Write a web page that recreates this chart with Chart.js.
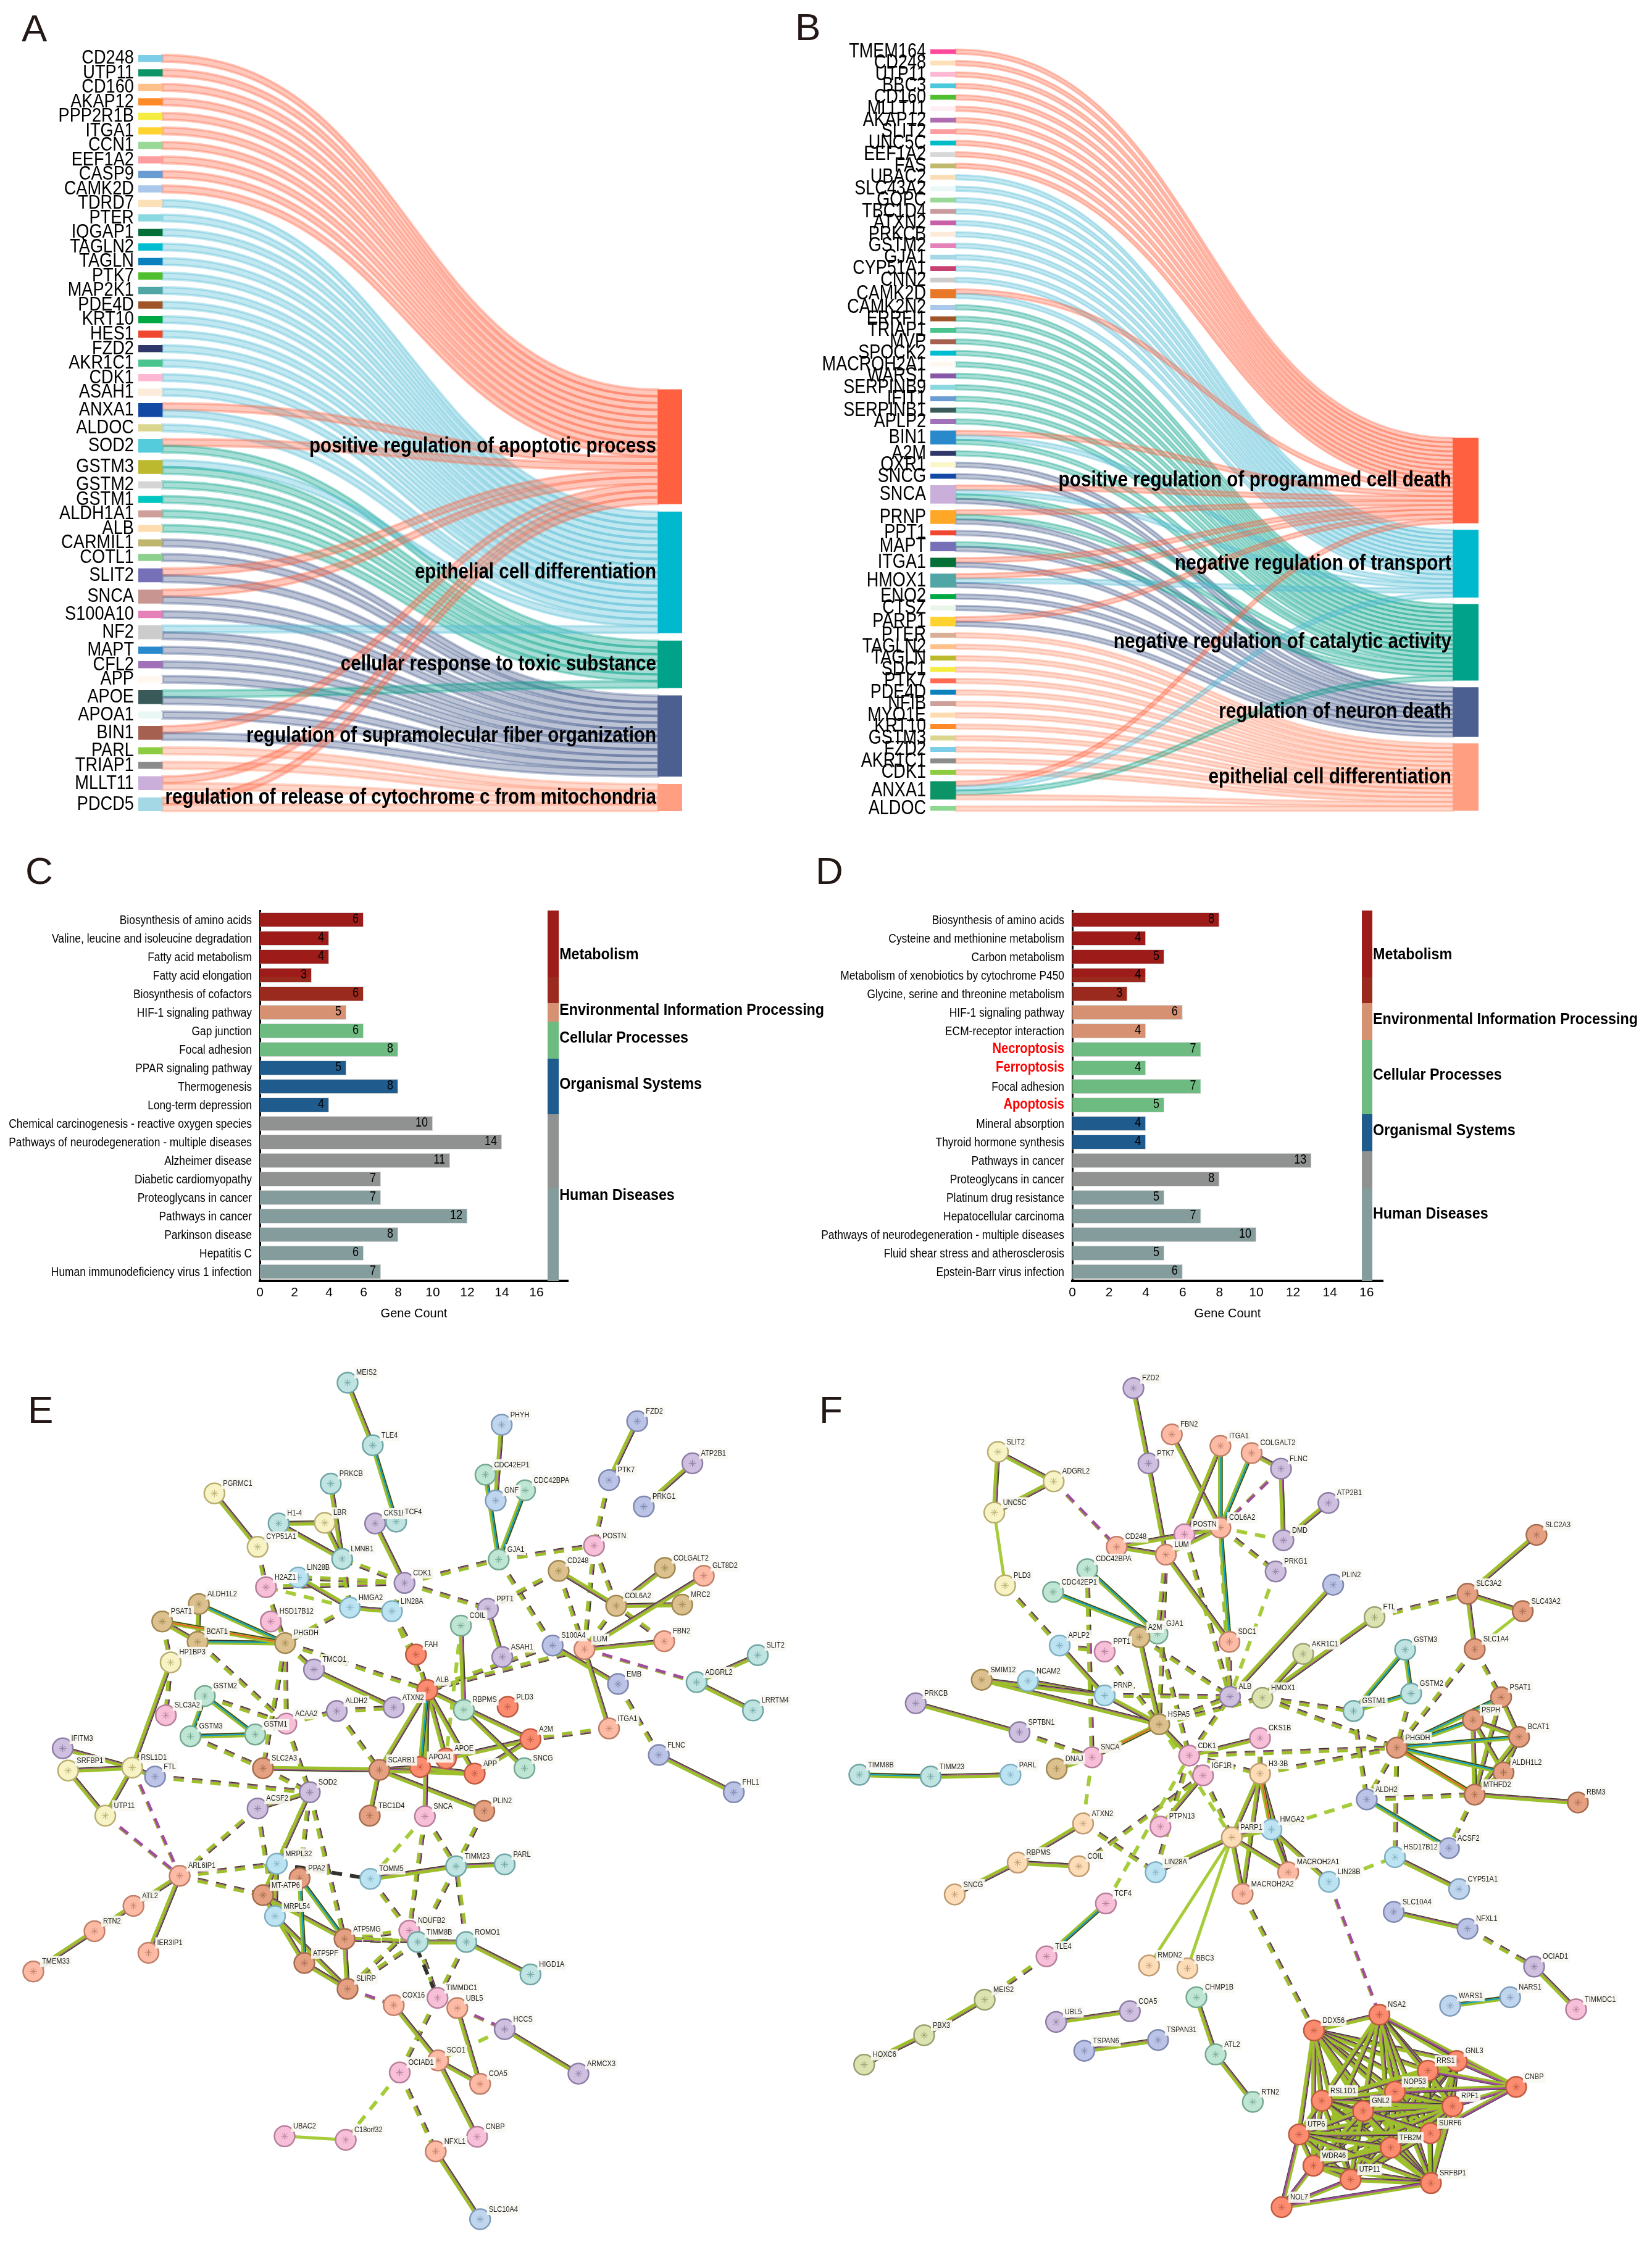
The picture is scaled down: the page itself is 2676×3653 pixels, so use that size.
<!DOCTYPE html>
<html>
<head>
<meta charset="utf-8">
<title>Enrichment and interaction panels</title>
<script src="https://cdn.jsdelivr.net/npm/chart.js@4"></script>
<style>
    body { margin: 0; background: #fff; width: 2676px; height: 3653px; position: relative; overflow: hidden; }
    canvas { position: absolute; }
    .letter { position: absolute; font: 62px/1 "Liberation Sans", Arial, sans-serif; color: #231815; }
</style>
</head>
<body>
<div class="letter" style="left:35px;top:15px">A</div>
<div class="letter" style="left:1288px;top:13px">B</div>
<div class="letter" style="left:41px;top:1380px">C</div>
<div class="letter" style="left:1321px;top:1380px">D</div>
<div class="letter" style="left:45px;top:2253px">E</div>
<div class="letter" style="left:1327px;top:2253px">F</div>

<script>
// ---------- panel A: genes, their terms (digit = index into aTerms) ----------
const aGenes = "CD248 UTP11 CD160 AKAP12 PPP2R1B ITGA1 CCN1 EEF1A2 CASP9 CAMK2D TDRD7 PTER IQGAP1 TAGLN2 TAGLN PTK7 MAP2K1 PDE4D KRT10 HES1 FZD2 AKR1C1 CDK1 ASAH1 ANXA1 ALDOC SOD2 GSTM3 GSTM2 GSTM1 ALDH1A1 ALB CARMIL1 COTL1 SLIT2 SNCA S100A10 NF2 MAPT CFL2 APP APOE APOA1 BIN1 PARL TRIAP1 MLLT11 PDCD5".split(" ");
const aLinks = "0 0 0 0 0 0 0 0 0 0 1 1 1 1 1 1 1 1 1 1 1 1 1 1 01 1 02 12 2 2 2 2 3 3 03 03 3 13 3 3 3 23 3 03 4 4 04 04".split(" ");
const aGeneColors = ["#7BCDE8","#0C9466","#FFC08A","#FF8A28","#F5EC42","#FFD230","#9AD897","#FF9CA0","#6A9CD4","#AAC8EA","#FBE0B8","#8CD8E0","#047038","#00BCD0","#0A80BC","#50BF2F","#50A5A5","#A05528","#00A844","#F04730","#2F3668","#4CC48F","#FFB8D4","#FCEBDA","#1448A5","#DAD68F","#54CCDC","#BDB92E","#D5D5D5","#00C5C0","#CFA09A","#FFDCB0","#BFB56C","#8CD08C","#7570B8","#C89590","#E680B8","#CCCCCC","#2A88CC","#A070B8","#FFF8F0","#3A5A5A","#EAF8F5","#A56050","#8CCC40","#8C8C8C","#C9AFDA","#A5D8E5"];
const aTerms = ["positive regulation of apoptotic process","epithelial cell differentiation","cellular response to toxic substance","regulation of supramolecular fiber organization","regulation of release of cytochrome c from mitochondria"];

// ---------- panel B ----------
const bGenes = "TMEM164 CD248 UTP11 BBC3 CD160 MLLT11 AKAP12 SLIT2 UNC5C EEF1A2 FAS UBAC2 SLC43A2 GOPC TBC1D4 ATXN2 PRKCB GSTM2 GJA1 CYP51A1 CNN2 CAMK2D CAMK2N2 ERRFI1 TRIAP1 MVP SPOCK2 MACROH2A1 WARS1 SERPINB9 IFIT1 SERPINB1 APLP2 BIN1 A2M OXR1 SNCG SNCA PRNP PPT1 MAPT ITGA1 HMOX1 ENO2 CTSZ PARP1 PTER TAGLN2 TAGLN SDC1 PTK7 PDE4D NFIB MYO1E KRT10 GSTM3 FZD2 AKR1C1 CDK1 ANXA1 ALDOC".split(" ");
const bLinks = "0 0 0 0 0 0 0 0 0 0 0 1 1 1 1 1 1 1 1 1 1 01 2 2 2 2 2 2 2 2 2 2 2 012 2 3 3 0123 023 3 23 03 013 3 3 03 4 4 4 4 4 4 4 4 4 4 4 4 4 0124 4".split(" ");
const bGeneColors = ["#FF4A9C","#FDE0B8","#FFB8D4","#4CC8DC","#50BF2F","#FFEFF5","#B06CB0","#FF9CA0","#00BCC8","#D8D8D8","#C0B86C","#FBDDB5","#EAF8F8","#9AD897","#C89A9C","#C860A8","#FCEBDA","#E680B8","#A5D8E5","#C84070","#CCCCCC","#E87828","#AAC8EA","#A05528","#48C48C","#A56050","#00BCD0","#FFF8F0","#8858A8","#88D8E0","#6A9CD4","#3A5A5A","#A070B8","#2A88CC","#2F3668","#FBF6C8","#1448A5","#C9AFDA","#FFA828","#F04730","#7570B8","#047038","#50A5A5","#00A844","#EAF5EA","#FFD230","#D8AE94","#FFC08A","#BDB92E","#F5EC42","#FF6A50","#0A80BC","#CFA09A","#FFDCB0","#FF8A28","#DAD68F","#7BCDE8","#8C8C8C","#8CCC40","#0C9466","#8CD890"];
const bTerms = ["positive regulation of programmed cell death","negative regulation of transport","negative regulation of catalytic activity","regulation of neuron death","epithelial cell differentiation"];

const termColors = ["#FF6040","#00B9CE","#00A28A","#4B5F90","#FF9E80"];
const ribbonColors = ["255,96,64","77,187,213","0,160,135","60,84,136","255,140,105"];

// ---------- panel C ----------
const cPathways = ["Biosynthesis of amino acids","Valine, leucine and isoleucine degradation","Fatty acid metabolism","Fatty acid elongation","Biosynthesis of cofactors","HIF-1 signaling pathway","Gap junction","Focal adhesion","PPAR signaling pathway","Thermogenesis","Long-term depression","Chemical carcinogenesis - reactive oxygen species","Pathways of neurodegeneration - multiple diseases","Alzheimer disease","Diabetic cardiomyopathy","Proteoglycans in cancer","Pathways in cancer","Parkinson disease","Hepatitis C","Human immunodeficiency virus 1 infection"];
const cCounts = [6,4,4,3,6,5,6,8,5,8,4,10,14,11,7,7,12,8,6,7];
const cBands = [3.6,5,6,8,11,15,20];

// ---------- panel D ----------
const dPathways = ["Biosynthesis of amino acids","Cysteine and methionine metabolism","Carbon metabolism","Metabolism of xenobiotics by cytochrome P450","Glycine, serine and threonine metabolism","HIF-1 signaling pathway","ECM-receptor interaction","Necroptosis","Ferroptosis","Focal adhesion","Apoptosis","Mineral absorption","Thyroid hormone synthesis","Pathways in cancer","Proteoglycans in cancer","Platinum drug resistance","Hepatocellular carcinoma","Pathways of neurodegeneration - multiple diseases","Fluid shear stress and atherosclerosis","Epstein-Barr virus infection"];
const dCounts = [8,4,5,4,3,6,4,7,4,7,5,4,4,13,8,5,7,10,5,6];
const dBands = [3.6,5,7,11,13,15,20];
const dHighlight = ["Necroptosis","Ferroptosis","Apoptosis"];

const bandColors = ["#9D1C1A","#9A2A1D","#D69072","#6DBB80","#1F5C8D","#8F9290","#849C9C"];
const groupNames = ["Metabolism","Environmental Information Processing","Cellular Processes","Organismal Systems","Human Diseases"];
const cGroupEnds = [5,6,8,11,20];
const dGroupEnds = [5,7,11,13,20];

// ---------- panel E network ----------
const eNames = "MEIS2 TLE4 PHYH FZD2 ATP2B1 PRKCB PGRMC1 CDC42EP1 GNF CDC42BPA PTK7 PRKG1 H1-4 LBR CKS1B TCF4 CYP51A1 LMNB1 GJA1 POSTN CD248 COLGALT2 GLT8D2 H2AZ1 LIN28B CDK1 ALDH1L2 PSAT1 HMGA2 LIN28A PPT1 COL6A2 MRC2 HSD17B12 COIL FBN2 BCAT1 PHGDH HP1BP3 FAH ASAH1 S100A4 LUM SLIT2 TMCO1 EMB ADGRL2 ALB GSTM2 ATXN2 RBPMS PLD3 LRRTM4 SLC3A2 ALDH2 ACAA2 ITGA1 GSTM1 GSTM3 A2M IFITM3 FLNC SRFBP1 RSL1D1 FTL SLC2A3 SCARB1 APOA1 APOE APP SNCG SOD2 ACSF2 FHL1 UTP11 TBC1D4 SNCA PLIN2 ARL6IP1 ATL2 RTN2 TMEM33 IER3IP1 MRPL32 PPA2 MT-ATP6 MRPL54 ATP5MG ATP5PF SLIRP TOMM5 TIMM23 PARL NDUFB2 TIMM8B ROMO1 HIGD1A COX16 TIMMDC1 UBL5 HCCS SCO1 OCIAD1 COA5 ARMCX3 UBAC2 C18orf32 CNBP NFXL1 SLC10A4".split(" ");
const eX = [560,602,817,1043,1135,532,338,790,807,856,996,1054,445,522,606,641,410,551,812,971,912,1089,1154,424,478,655,312,251,564,634,794,1008,1118,432,749,1088,310,456,265,674,818,902,955,1244,504,1011,1142,693,322,637,754,827,1236,257,542,458,996,406,298,865,85,1079,94,201,239,419,613,681,724,772,855,497,410,1204,156,597,689,788,280,203,138,36,228,442,480,419,439,555,488,560,598,741,822,663,677,758,865,637,710,743,822,711,647,781,945,455,557,776,707,781];
const eY = [2222,2326,2292,2286,2356,2390,2406,2375,2418,2401,2384,2428,2456,2455,2456,2453,2495,2515,2516,2493,2535,2530,2543,2562,2546,2555,2590,2619,2596,2602,2598,2593,2591,2619,2626,2652,2653,2655,2687,2674,2678,2659,2665,2675,2699,2723,2720,2733,2743,2762,2766,2761,2767,2775,2768,2789,2797,2807,2810,2815,2830,2841,2867,2862,2877,2863,2866,2861,2847,2872,2863,2903,2930,2903,2942,2942,2943,2934,3042,3092,3134,3201,3170,3022,3046,3074,3109,3147,3187,3230,3047,3026,3023,3133,3152,3152,3206,3257,3245,3262,3297,3349,3369,3388,3371,3475,3481,3476,3500,3613];
const eTint = "t t b p l t y g b g p p t y l t y t g k o o r k c l o o c c l o o k g r o o y s l p r t l p t s g l g s t k l k r g g s l p y y p d d s s s g l l p y d k d r r r r r c d d c d d d c t t k t t t r k r l r k r l k k k r b b".split(" ");
const eFull = "MEIS2|TLE4 PHYH|GNF FZD2|PTK7 ATP2B1|PRKG1 PRKCB|LMNB1 PGRMC1|CYP51A1 H1-4|LBR H1-4|LMNB1 LBR|LMNB1 CKS1B|CDK1 COL6A2|CD248 COL6A2|COLGALT2 COL6A2|MRC2 LUM|GLT8D2 LUM|FBN2 S100A4|EMB LUM|ITGA1 ADGRL2|SLIT2 ADGRL2|LRRTM4 FLNC|FHL1 HMGA2|LIN28B HMGA2|LIN28A PPT1|ASAH1 COIL|RBPMS TMCO1|ATXN2 PSAT1|BCAT1 ALDH1L2|BCAT1 HP1BP3|RSL1D1 IFITM3|RSL1D1 SRFBP1|RSL1D1 RSL1D1|UTP11 SRFBP1|UTP11 RSL1D1|FTL ALB|APOE ALB|SCARB1 ALB|APP ALB|A2M APOE|A2M APP|A2M RBPMS|SNCG SCARB1|PLIN2 SCARB1|SLC2A3 SCARB1|APOA1 SCARB1|TBC1D4 SCARB1|APP APOA1|APP ALB|SNCA SOD2|ACSF2 SOD2|MT-ATP6 ARL6IP1|ATL2 ATL2|RTN2 RTN2|TMEM33 ARL6IP1|IER3IP1 MRPL32|MRPL54 MT-ATP6|ATP5MG MT-ATP6|ATP5PF MRPL54|SLIRP ATP5MG|SLIRP ATP5PF|SLIRP TOMM5|TIMM23 TIMM23|PARL TIMM8B|ROMO1 ROMO1|HIGD1A COX16|SCO1 UBL5|COA5 SCO1|COA5 SCO1|CNBP HCCS|ARMCX3 NFXL1|SLC10A4".split(" ");
const eBlue = "TLE4|TCF4 CDC42EP1|GJA1 CDC42BPA|GJA1 ALDH1L2|PHGDH BCAT1|PHGDH GSTM2|GSTM1 GSTM2|GSTM3 GSTM3|GSTM1 ALB|APOA1 PPA2|ATP5MG PPA2|ATP5PF".split(" ");
const eOrange = "PSAT1|PHGDH".split(" ");
const eDash = "CDK1|GJA1 GJA1|POSTN GJA1|S100A4 PTK7|POSTN POSTN|COL6A2 CD248|LUM POSTN|LUM COL6A2|LUM FBN2|COL6A2 EMB|FLNC ITGA1|A2M S100A4|ALB LUM|ALB CDK1|PPT1 CDK1|LMNB1 CDK1|LIN28B CDK1|H2AZ1 CDK1|LIN28A LIN28A|ALB CYP51A1|H2AZ1 LMNB1|HMGA2 HMGA2|PHGDH H2AZ1|PHGDH PHGDH|TMCO1 PHGDH|ALB PSAT1|HP1BP3 BCAT1|ACAA2 PHGDH|ACAA2 PHGDH|SLC2A3 GSTM2|ACAA2 GSTM3|SLC2A3 GSTM1|ACAA2 ACAA2|ALDH2 ALDH2|ATXN2 ALDH2|SCARB1 ACAA2|SOD2 SLC2A3|SOD2 FTL|SOD2 ACSF2|ARL6IP1 ARL6IP1|MRPL32 ARL6IP1|MT-ATP6 SOD2|MRPL32 SOD2|PPA2 SOD2|ATP5MG ACSF2|MRPL54 SNCA|TIMM23 SNCA|NDUFB2 PLIN2|TIMM23 ROMO1|TIMM23 ROMO1|TIMMDC1 TOMM5|NDUFB2 TIMM23|TIMM8B NDUFB2|ATP5MG TIMM8B|ATP5MG ROMO1|ATP5MG NDUFB2|SLIRP TIMM8B|SLIRP TIMM8B|TIMMDC1 TIMMDC1|OCIAD1 OCIAD1|NFXL1 HP1BP3|SLC3A2 CD248|PPT1 LIN28A|FAH FAH|ALB".split(" ");
const eDashLime = "SNCA|TOMM5 OCIAD1|C18orf32 HCCS|SCO1 COIL|APOE HMGA2|H2AZ1".split(" ");
const eDashPurple = "LUM|ADGRL2 RSL1D1|ARL6IP1 UTP11|ARL6IP1 SLIRP|COX16 UBL5|HCCS".split(" ");
const eDashDark = "MRPL32|TOMM5 NDUFB2|TIMMDC1".split(" ");
const eLime = "UBAC2|C18orf32 COIL|RBPMS".split(" ");

// ---------- panel F network ----------
const fNames = "FZD2 FBN2 ITGA1 COLGALT2 PTK7 FLNC SLIT2 ADGRL2 ATP2B1 UNC5C POSTN COL6A2 DMD CD248 LUM PRKG1 SLC2A3 CDC42BPA PLD3 PLIN2 CDC42EP1 SLC3A2 SLC43A2 FTL GJA1 A2M APLP2 PPT1 SDC1 AKR1C1 GSTM3 SLC1A4 SMIM12 NCAM2 PRNP ALB HMOX1 GSTM2 GSTM1 PSAT1 PRKCB HSPA5 PSPH SPTBN1 BCAT1 CKS1B PHGDH SNCA CDK1 DNAJ TIMM8B TIMM23 PARL IGF1R H3-3B ALDH1L2 MTHFD2 ALDH2 RBM3 ATXN2 PTPN13 HMGA2 PARP1 ACSF2 HSD17B12 RBPMS COIL LIN28A MACROH2A1 LIN28B CYP51A1 MACROH2A2 SNCG TCF4 SLC10A4 NFXL1 TLE4 RMDN2 BBC3 OCIAD1 CHMP1B MEIS2 NARS1 WARS1 TIMMDC1 NSA2 COA5 UBL5 DDX56 PBX3 TSPAN31 TSPAN6 ATL2 GNL3 RRS1 HOXC6 CNBP NOP53 RSL1D1 RTN2 RPF1 GNL2 SURF6 UTP6 TFB2M WDR46 UTP11 SRFBP1 NOL7".split(" ");
const fX = [1831,1895,1976,2028,1856,2077,1605,1698,2156,1599,1916,1976,2081,1803,1885,2068,2503,1754,1617,2164,1697,2388,2480,2233,1871,1841,1708,1783,1991,2114,2284,2400,1578,1655,1783,1992,2046,2294,2198,2444,1468,1874,2397,1641,2474,2042,2270,1762,1924,1703,1374,1493,1626,1947,2042,2448,2400,2220,2572,1747,1876,2061,1995,2357,2267,1638,1740,1868,2089,2157,2374,2013,1533,1785,2265,2388,1686,1857,1921,2499,1936,1583,2459,2359,2569,2241,1825,1702,2132,1482,1872,1749,1968,2370,2322,1382,2469,2267,2145,2030,2363,2214,2326,2107,2260,2131,2193,2327,2078];
const fY = [2231,2308,2327,2339,2356,2365,2337,2386,2422,2438,2474,2463,2484,2495,2508,2536,2475,2532,2559,2558,2570,2573,2602,2612,2639,2645,2659,2669,2653,2673,2666,2665,2716,2718,2742,2744,2746,2739,2768,2745,2755,2790,2783,2803,2811,2813,2829,2845,2842,2864,2874,2877,2874,2875,2872,2870,2907,2915,2920,2955,2960,2965,2978,2996,3011,3020,3026,3036,3036,3052,3064,3072,3073,3088,3102,3130,3176,3191,3196,3193,3244,3248,3244,3258,3264,3273,3267,3285,3299,3307,3315,3333,3339,3350,3366,3356,3393,3401,3416,3418,3425,3433,3470,3472,3494,3524,3547,3553,3593];
const fTint = "l r r r l l y y l y k r l r r l d g y p g d d v g o c k r v t d o c c l v t t d l o d l d k d k k o t t c k f d d p d f k c f p c f f c r c b r f k p p k f f l g v b b k s l l s v p p g s s v s s s g s s s s s s s s s".split(" ");
const fFull = "FZD2|PTK7 FBN2|COL6A2 ITGA1|POSTN COLGALT2|FLNC FLNC|DMD ATP2B1|DMD SLIT2|ADGRL2 SLIT2|UNC5C ADGRL2|UNC5C PTK7|LUM CD248|COL6A2 LUM|COL6A2 POSTN|COL6A2 CD248|LUM LUM|SDC1 A2M|HSPA5 APLP2|PRNP SMIM12|HSPA5 NCAM2|PRNP SMIM12|PRNP PRKCB|SPTBN1 PLIN2|ALB AKR1C1|HMOX1 FTL|HMOX1 SLC2A3|SLC3A2 SLC3A2|SLC43A2 SLC3A2|SLC1A4 PSAT1|PSPH PSAT1|BCAT1 PSAT1|MTHFD2 PSPH|BCAT1 PSPH|MTHFD2 PSPH|ALDH1L2 BCAT1|ALDH1L2 BCAT1|MTHFD2 ALDH1L2|MTHFD2 MTHFD2|RBM3 HSPA5|PRNP HSPA5|CDK1 CDK1|CKS1B TIMM23|PARL DNAJ|SNCA ATXN2|RBPMS RBPMS|COIL RBPMS|SNCG H3-3B|PARP1 H3-3B|MACROH2A1 H3-3B|MACROH2A2 PARP1|HMGA2 PARP1|LIN28A PARP1|MACROH2A1 PARP1|MACROH2A2 HMGA2|MACROH2A1 HMGA2|LIN28B IGF1R|PTPN13 HSD17B12|CYP51A1 SLC10A4|NFXL1 OCIAD1|TIMMDC1 MEIS2|PBX3 PBX3|HOXC6 UBL5|COA5 TSPAN6|TSPAN31 CHMP1B|ATL2 ATL2|RTN2".split(" ");
const fBlue = "ITGA1|COL6A2 COLGALT2|COL6A2 COL6A2|SDC1 CDC42EP1|GJA1 CDC42BPA|GJA1 GSTM3|GSTM1 GSTM3|GSTM2 GSTM1|GSTM2 PHGDH|PSAT1 PHGDH|PSPH PHGDH|BCAT1 PHGDH|ALDH1L2 TIMM8B|TIMM23 ALDH2|ACSF2 WARS1|NARS1 TCF4|TLE4".split(" ");
const fOrange = "HSPA5|SNCA H3-3B|HMGA2 PHGDH|MTHFD2".split(" ");
const fDash = "PLD3|APLP2 APLP2|PPT1 COL6A2|PRKG1 FTL|SLC3A2 CDC42BPA|SNCA A2M|ALB GJA1|CDK1 POSTN|ALB COL6A2|ALB LUM|HSPA5 LUM|GJA1 SDC1|ALB PPT1|HSPA5 PRNP|ALB HSPA5|ALB HSPA5|HMOX1 CDK1|ALB HMOX1|GSTM1 HMOX1|PHGDH GSTM2|PHGDH SLC1A4|PSAT1 SLC1A4|PHGDH CKS1B|H3-3B CDK1|H3-3B CDK1|IGF1R IGF1R|PARP1 CDK1|PHGDH H3-3B|PHGDH PHGDH|ALDH2 GSTM1|ALDH2 ALDH2|MTHFD2 MTHFD2|ACSF2 PHGDH|HSD17B12 MACROH2A2|DDX56 ATXN2|LIN28A COIL|IGF1R LIN28A|CDK1 HSPA5|IGF1R TLE4|MEIS2 NFXL1|OCIAD1 SPTBN1|SNCA".split(" ");
const fDashLime = "DMD|COL6A2 PRKG1|ALB HMGA2|ALDH2 LIN28B|HSD17B12 SNCA|ATXN2 TCF4|CDK1 HSPA5|PARP1".split(" ");
const fDashPurple = "ADGRL2|CD248 FLNC|COL6A2 LIN28B|NSA2".split(" ");
const fLime = "UNC5C|PLD3 PARP1|RMDN2 PARP1|BBC3 SLC43A2|SLC1A4".split(" ");
const fCore = "DDX56 NSA2 GNL3 RRS1 NOP53 RSL1D1 RPF1 GNL2 SURF6 UTP6 TFB2M WDR46 UTP11 SRFBP1".split(" ");
const fCoreExtra = "CNBP|NSA2 CNBP|GNL3 CNBP|RRS1 CNBP|RPF1 CNBP|SURF6 CNBP|NOP53 NOL7|UTP6 NOL7|WDR46 NOL7|UTP11 NOL7|SRFBP1".split(" ");

const tints = {
    t:["#BFE4E2","#6FA5A5"], c:["#BCE3F2","#7FB0C2"], b:["#BFD6EE","#7F9BBA"], p:["#BBC3E6","#7F88AE"],
    l:["#CFC0E0","#8E7DA5"], y:["#F8F3C5","#B8AE70"], g:["#BFE6D5","#74A890"], k:["#F7BFD8","#B87F9C"],
    o:["#DCC08E","#A08850"], f:["#FCDDB8","#C09A70"], r:["#FDBBA5","#C07F68"], s:["#FC8C70","#C05A40"],
    d:["#E4A080","#A56C50"], v:["#DDE3B0","#9AA070"]
};

const sansFont = '"Liberation Sans", Arial, sans-serif';
Chart.defaults.font.family = sansFont;
Chart.defaults.color = "#000";
Chart.defaults.animation = false;

function makeCanvas(left, top, width, height) {
    const c = document.createElement("canvas");
    c.width = width;
    c.height = height;
    c.style.left = left + "px";
    c.style.top = top + "px";
    document.body.appendChild(c);
    return c;
}

// the source text is condensed, no narrow font is installed so squeeze it
function squeezedText(ctx, text, x, y, font, squeeze, align, color) {
    ctx.save();
    ctx.translate(x, y);
    ctx.scale(squeeze, 1);
    ctx.font = font;
    ctx.textAlign = align;
    ctx.textBaseline = "middle";
    ctx.fillStyle = color;
    ctx.fillText(text, 0, 0);
    ctx.restore();
}

// sankey: floating bars for the nodes, ribbons drawn through the same scales
function sankey(box, genes, links, geneColors, terms, gap) {
    let y = 0;
    const leftBars = [];
    const leftUsed = [];
    links.forEach(t => {
        leftBars.push({ x: 0, y: [y, y + t.length] });
        leftUsed.push(y);
        y += t.length + gap;
    });
    const total = y - gap;

    const counts = terms.map((_, i) => links.join("").split(String(i)).length - 1);
    let ry = total - (links.join("").length + gap * (terms.length - 1));
    const rightBars = [];
    const rightUsed = [];
    counts.forEach(n => {
        rightBars.push({ x: 1, y: [ry, ry + n] });
        rightUsed.push(ry);
        ry += n + gap;
    });

    // one ribbon per gene/term pair
    const ribbons = [];
    links.forEach((t, g) => {
        t.split("").forEach((d, k) => {
            const term = Number(d);
            ribbons.push({ term, from: leftUsed[g] + k, to: rightUsed[term] });
            rightUsed[term] += 1;
        });
    });

    const ribbonPlugin = {
        id: "ribbons",
        beforeDatasetsDraw(chart) {
            const { ctx, scales } = chart;
            const x0 = scales.x.getPixelForValue(0) + box.barW / 2;
            const x1 = scales.x.getPixelForValue(1) - box.barW / 2;
            const xm = (x0 + x1) / 2;
            ctx.save();
            ribbons.forEach(r => {
                const a0 = scales.y.getPixelForValue(r.from), a1 = scales.y.getPixelForValue(r.from + 1);
                const b0 = scales.y.getPixelForValue(r.to), b1 = scales.y.getPixelForValue(r.to + 1);
                ctx.beginPath();
                ctx.moveTo(x0, a0);
                ctx.bezierCurveTo(xm, a0, xm, b0, x1, b0);
                ctx.lineTo(x1, b1);
                ctx.bezierCurveTo(xm, b1, xm, a1, x0, a1);
                ctx.closePath();
                ctx.fillStyle = "rgba(" + ribbonColors[r.term] + ",0.35)";
                ctx.fill();
                ctx.lineWidth = box.edge;
                ctx.strokeStyle = "rgba(" + ribbonColors[r.term] + ",0.35)";
                ctx.stroke();
            });
            ctx.restore();
        },
        afterDatasetsDraw(chart) {
            const { ctx, scales } = chart;
            const xr = scales.x.getPixelForValue(1) - box.barW / 2 - 3;
            terms.forEach((t, i) => {
                const mid = (rightBars[i].y[0] + rightBars[i].y[1]) / 2;
                squeezedText(ctx, t, xr, scales.y.getPixelForValue(mid), "bold 35px " + sansFont, box.termSqueeze, "right", "#000");
            });
            genes.forEach((g, i) => {
                const mid = (leftBars[i].y[0] + leftBars[i].y[1]) / 2;
                squeezedText(ctx, g, box.areaLeft - box.left - 7, scales.y.getPixelForValue(mid), box.tickSize + "px " + sansFont, box.tickSqueeze, "right", "#000");
            });
        }
    };

    const span = (box.right - box.areaLeft) - box.barW;
    new Chart(makeCanvas(box.left, 0, box.width, box.height), {
        type: "bar",
        data: {
            datasets: [{
                data: leftBars.concat(rightBars),
                backgroundColor: geneColors.concat(termColors),
                barThickness: box.barW,
                borderWidth: 0
            }]
        },
        options: {
            responsive: false,
            devicePixelRatio: 1,
            layout: { padding: { top: box.top, bottom: box.height - box.bottom, right: box.left + box.width - box.right, left: 0 } },
            plugins: { legend: { display: false }, tooltip: { enabled: false } },
            scales: {
                x: { type: "linear", display: false, offset: false, min: -box.barW / 2 / span, max: 1 + box.barW / 2 / span },
                y: {
                    type: "linear", reverse: true, min: 0, max: total,
                    grid: { display: false }, border: { display: false },
                    afterFit(s) { s.width = box.areaLeft - box.left; },
                    ticks: { display: false }
                }
            }
        },
        plugins: [ribbonPlugin]
    });
}

// bar panels C and D
function bars(box, names, counts, bands, groupEnds, highlight) {
    // vertical hard stop colour, same for bars and the side strip
    function bandFill(chart) {
        const a = chart.chartArea;
        if (!a) return bandColors[0];
        const g = chart.ctx.createLinearGradient(0, a.top, 0, a.bottom);
        let prev = 0;
        bands.forEach((b, i) => {
            g.addColorStop(prev / names.length, bandColors[i]);
            g.addColorStop(b / names.length, bandColors[i]);
            prev = b;
        });
        return g;
    }
    const extras = {
        id: "extras",
        afterDatasetsDraw(chart) {
            const { ctx, scales } = chart;
            const bar = chart.getDatasetMeta(0).data;
            bar.forEach((b, i) => {
                squeezedText(ctx, String(counts[i]), b.x - 8, b.y - 1, "22px " + sansFont, 0.82, "right", "#000");
                const hot = highlight.includes(names[i]);
                squeezedText(ctx, names[i], box.areaLeft - box.left - 13, scales.y.getPixelForValue(i) + (hot ? -1 : 1),
                    (hot ? "bold 24px " : "20px ") + sansFont, hot ? 0.84 : 0.868, "right", hot ? "#FF0000" : "#000");
            });

            // side strip
            const sx0 = scales.x.getPixelForValue(box.strip[0]);
            const sx1 = scales.x.getPixelForValue(box.strip[1]);
            ctx.save();
            ctx.fillStyle = bandFill(chart);
            ctx.fillRect(sx0, chart.chartArea.top, sx1 - sx0, chart.chartArea.height);
            ctx.restore();

            let start = 0;
            groupEnds.forEach((e, i) => {
                const y = scales.y.getPixelForValue((start + e) / 2 - 0.5);
                squeezedText(ctx, groupNames[i], sx1 + 1, y - 3, "bold 26px " + sansFont, 0.897, "left", "#000");
                start = e;
            });
        }
    };
    new Chart(makeCanvas(box.left, box.top0, box.width, box.height), {
        type: "bar",
        data: {
            labels: names,
            datasets: [{
                data: counts,
                backgroundColor: ctx => bandFill(ctx.chart),
                barPercentage: 0.8,
                categoryPercentage: 1,
                borderWidth: 1,
                borderColor: "rgba(200,200,200,0.7)"
            }]
        },
        options: {
            indexAxis: "y",
            responsive: false,
            devicePixelRatio: 1,
            layout: { padding: { top: box.top - box.top0, bottom: 0, left: 0, right: box.left + box.width - box.right } },
            plugins: { legend: { display: false }, tooltip: { enabled: false } },
            scales: {
                x: {
                    type: "linear", min: 0, max: box.xMax,
                    grid: { display: false, tickLength: 6, tickWidth: 3, tickColor: "#000" },
                    border: { color: "#000", width: 4 },
                    afterFit(s) { s.height = box.height - (box.bottom - box.top0); },
                    ticks: { stepSize: 2, includeBounds: false, font: { size: 21 }, color: "#000", maxRotation: 0, padding: 1 },
                    title: { display: true, text: "Gene Count", font: { size: 20 }, color: "#000", padding: { top: 0, bottom: 0 } }
                },
                y: {
                    grid: { display: false, tickLength: 6, tickWidth: 3, tickColor: "#000" },
                    border: { color: "#000", width: 3 },
                    afterFit(s) { s.width = box.areaLeft - box.left; },
                    ticks: { autoSkip: false, display: false }
                }
            }
        },
        plugins: [extras]
    });
}

// stripes of one link, [colour, width, side offset]
const edgeStyles = {
    full: [["#9CBF2B",8,0],["#33332E",1.3,-3.2],["#A24C9E",1.4,-1.8]],
    blue: [["#9CBF2B",8,0],["#0E9FC4",2.2,-0.6],["#33332E",1.4,-2.8]],
    orange: [["#9CBF2B",8,0],["#F0642A",2.2,0],["#33332E",1.4,-2.8]],
    heavy: [["#9CBF2B",5,1.5],["#A24C9E",3.4,-1.4],["#33332E",1,-3.2]],
    lime: [["#A6CC3A",5,0]],
    dashLime: [["#A6CC3A",6,0]],
    dashPurple: [["#A24C9E",6,0],["#9CBF2B",1.5,2.4]],
    dashDark: [["#33332E",6,0]]
};

function network(box, names, xs, ys, tint, groups) {
    const index = {};
    names.forEach((n, i) => { index[n] = i; });

    const links = {
        id: "links",
        beforeDatasetsDraw(chart) {
            const { ctx, scales } = chart;
            ctx.save();
            ctx.lineCap = "butt";
            groups.forEach(g => {
                ctx.setLineDash(g.dash ? [17, 13] : []);
                g.pairs.forEach(p => {
                    const [a, b] = p.split("|").map(n => index[n]);
                    if (a === undefined || b === undefined) return;
                    const x0 = scales.x.getPixelForValue(xs[a]), y0 = scales.y.getPixelForValue(ys[a]);
                    const x1 = scales.x.getPixelForValue(xs[b]), y1 = scales.y.getPixelForValue(ys[b]);
                    const len = Math.hypot(x1 - x0, y1 - y0) || 1;
                    const nx = -(y1 - y0) / len, ny = (x1 - x0) / len;
                    edgeStyles[g.style].forEach(([color, width, off]) => {
                        ctx.strokeStyle = color;
                        ctx.lineWidth = width;
                        ctx.beginPath();
                        ctx.moveTo(x0 + nx * off, y0 + ny * off);
                        ctx.lineTo(x1 + nx * off, y1 + ny * off);
                        ctx.stroke();
                    });
                });
            });
            ctx.restore();
        },
        afterDatasetsDraw(chart) {
            const { ctx, scales } = chart;
            ctx.save();
            ctx.font = "13px " + sansFont;
            names.forEach((n, i) => {
                const x = scales.x.getPixelForValue(xs[i]) + 14;
                const y = scales.y.getPixelForValue(ys[i]) - 16;
                const w = ctx.measureText(n).width * 0.85;
                ctx.fillStyle = "rgba(248,247,242,0.92)";
                ctx.fillRect(x - 3, y - 9, w + 6, 18);
                squeezedText(ctx, n, x, y, "13px " + sansFont, 0.85, "left", "#222");
            });
            ctx.restore();
        }
    };

    const points = names.map((n, i) => ({ x: xs[i], y: ys[i] }));
    new Chart(makeCanvas(box.left, box.top, box.width, box.height), {
        type: "scatter",
        data: {
            datasets: [{
                // little protein scribble inside each node
                data: points,
                pointStyle: "star",
                pointRadius: 6,
                pointBorderWidth: 1,
                pointBackgroundColor: "transparent",
                pointBorderColor: tint.map(t => tints[t][1]),
                order: 0
            }, {
                data: points,
                pointRadius: 16.5,
                pointBorderWidth: 2.5,
                pointBackgroundColor: tint.map(t => tints[t][0]),
                pointBorderColor: tint.map(t => tints[t][1]),
                order: 1
            }]
        },
        options: {
            responsive: false,
            devicePixelRatio: 1,
            plugins: { legend: { display: false }, tooltip: { enabled: false } },
            scales: {
                x: { type: "linear", display: false, min: box.left, max: box.left + box.width },
                y: { type: "linear", display: false, reverse: true, min: box.top, max: box.top + box.height }
            }
        },
        plugins: [links]
    });
}

sankey({ left: 0, width: 1120, height: 1340, areaLeft: 224, right: 1105, top: 89, bottom: 1314, barW: 39, edge: 4, tickSize: 32, tickSqueeze: 0.85, termSqueeze: 0.845 },
    aGenes, aLinks, aGeneColors, aTerms, 1.156);
sankey({ left: 1300, width: 1105, height: 1340, areaLeft: 1507, right: 2395, top: 80, bottom: 1313.5, barW: 41, edge: 3, tickSize: 33, tickSqueeze: 0.82, termSqueeze: 0.85 },
    bGenes, bLinks, bGeneColors, bTerms, 1.548);

bars({ left: 0, top0: 1440, width: 1340, height: 700, areaLeft: 421, right: 920, top: 1475, bottom: 2075, xMax: 17.82, strip: [16.64, 17.29] },
    cPathways, cCounts, cBands, cGroupEnds, []);
bars({ left: 1290, top0: 1440, width: 1386, height: 700, areaLeft: 1737, right: 2240, top: 1475, bottom: 2075, xMax: 16.88, strip: [15.74, 16.31] },
    dPathways, dCounts, dBands, dGroupEnds, dHighlight);

// all pairs inside the ribosome biogenesis cluster
const fCorePairs = [];
fCore.forEach((a, i) => fCore.slice(i + 1).forEach(b => fCorePairs.push(a + "|" + b)));

network({ left: 0, top: 2180, width: 1330, height: 1473 }, eNames, eX, eY, eTint, [
    { pairs: eDash, style: "full", dash: true },
    { pairs: eDashLime, style: "dashLime", dash: true },
    { pairs: eDashPurple, style: "dashPurple", dash: true },
    { pairs: eDashDark, style: "dashDark", dash: true },
    { pairs: eLime, style: "lime" },
    { pairs: eFull, style: "full" },
    { pairs: eBlue, style: "blue" },
    { pairs: eOrange, style: "orange" }
]);
network({ left: 1340, top: 2180, width: 1336, height: 1473 }, fNames, fX, fY, fTint, [
    { pairs: fDash, style: "full", dash: true },
    { pairs: fDashLime, style: "dashLime", dash: true },
    { pairs: fDashPurple, style: "dashPurple", dash: true },
    { pairs: fLime, style: "lime" },
    { pairs: fFull, style: "full" },
    { pairs: fBlue, style: "blue" },
    { pairs: fOrange, style: "orange" },
    { pairs: fCorePairs, style: "full" },
    { pairs: fCoreExtra, style: "heavy" }
]);
</script>
</body>
</html>
